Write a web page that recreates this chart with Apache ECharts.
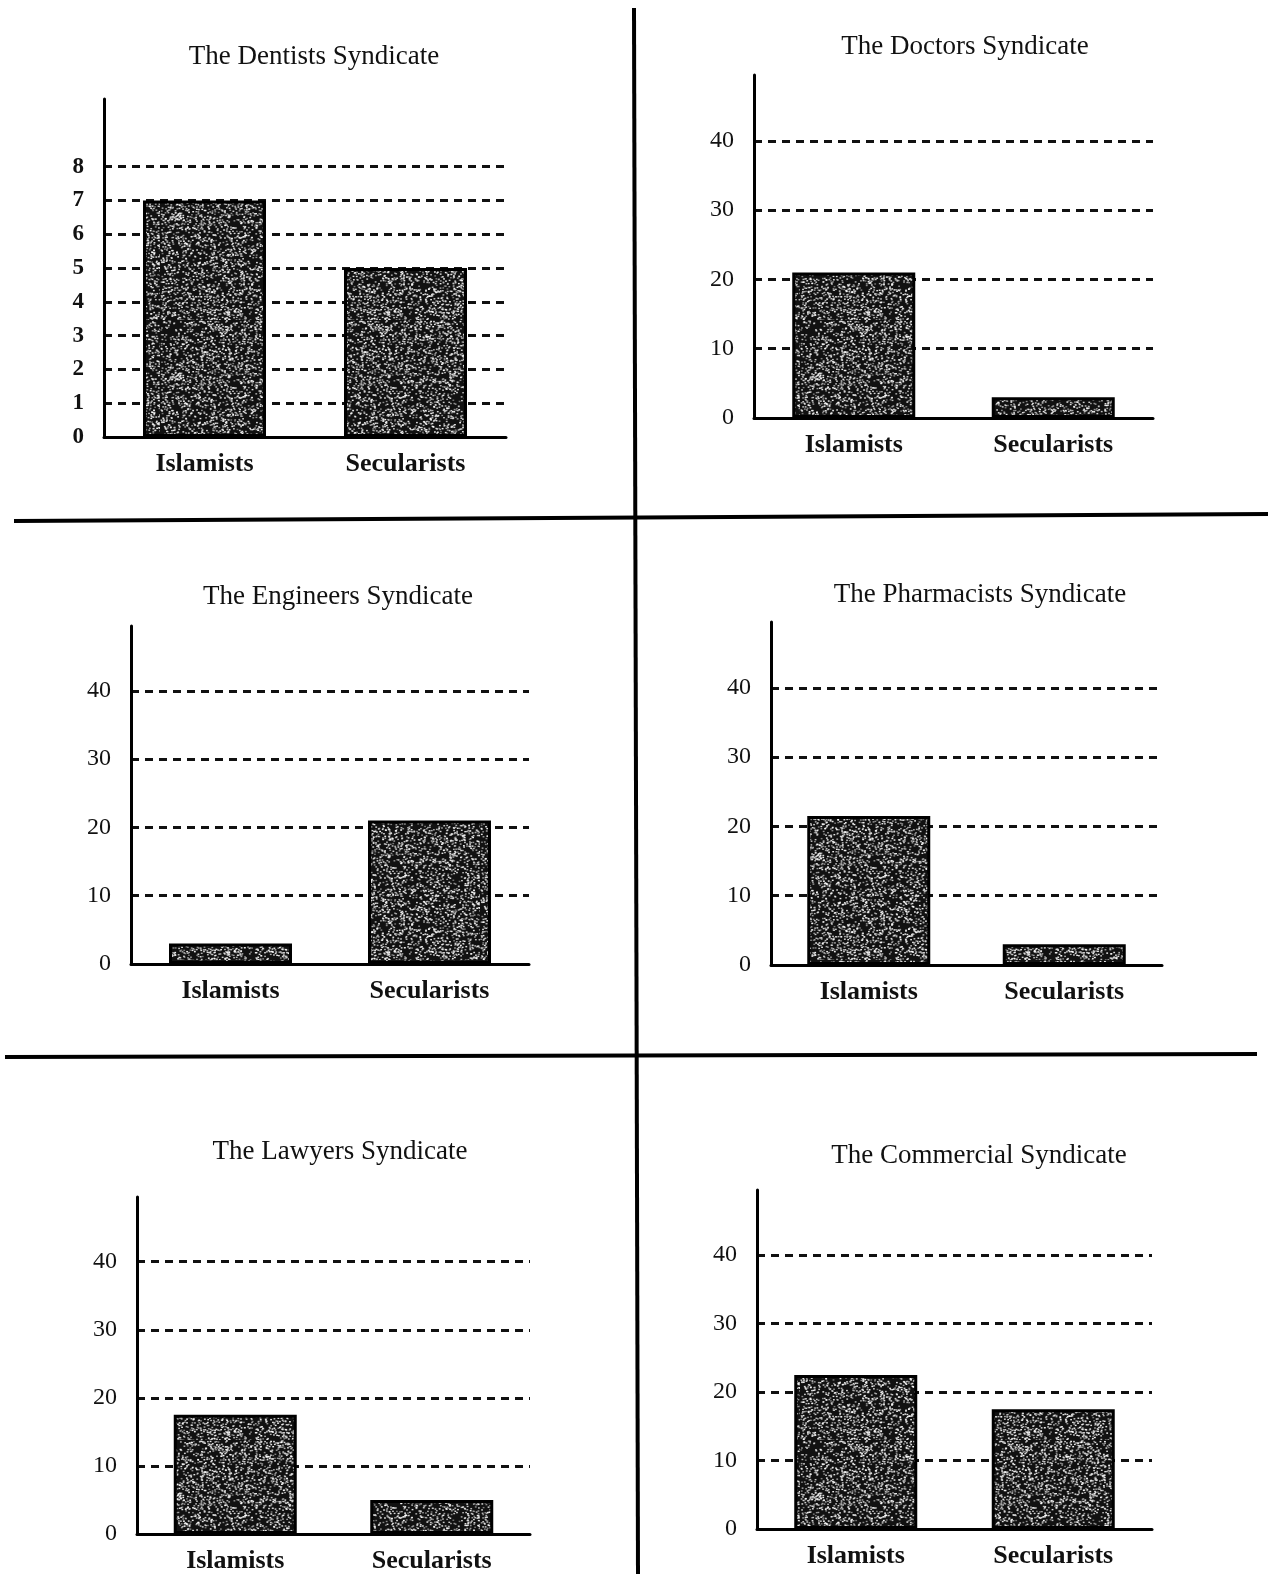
<!DOCTYPE html>
<html>
<head>
<meta charset="utf-8">
<script src="https://cdn.jsdelivr.net/npm/echarts@6/dist/echarts.min.js"></script>
<style>
  html,body{margin:0;padding:0;background:#fff;}
  #main{width:1275px;height:1574px;}
</style>
</head>
<body>
<div id="main"></div>
<script>
var categories = ['Islamists', 'Secularists'];
var titles = ['The Dentists Syndicate', 'The Doctors Syndicate', 'The Engineers Syndicate',
              'The Pharmacists Syndicate', 'The Lawyers Syndicate', 'The Commercial Syndicate'];
var dentistsValues = [7, 5];
var doctorsValues = [21, 3];
var engineersValues = [3, 21];
var pharmacistsValues = [21.5, 3];
var lawyersValues = [17.5, 5];
var commercialValues = [22.5, 17.5];
var dentistsTicks = [0, 1, 2, 3, 4, 5, 6, 7, 8];
var memberTicks = [0, 10, 20, 30, 40];

var allValues = [dentistsValues, doctorsValues, engineersValues, pharmacistsValues, lawyersValues, commercialValues];

// panel layout: grid box + title centre
var panels = [
  {left: 104, top: 99,   width: 402, height: 338, tx: 309, ty: 38},
  {left: 754, top: 75,   width: 399, height: 343, tx: 960, ty: 28},
  {left: 131, top: 626,  width: 398, height: 338, tx: 333, ty: 578},
  {left: 771, top: 622,  width: 391, height: 343, tx: 975, ty: 576},
  {left: 137, top: 1197, width: 393, height: 337, tx: 335, ty: 1133},
  {left: 757, top: 1190, width: 395, height: 339, tx: 974, ty: 1137}
];

// grainy print texture for the bars (hash noise, purely decorative)
function hash(n){ var v = Math.sin(n * 12.9898) * 43758.5453; return v - Math.floor(v); }
function grain(){
  var c = document.createElement('canvas');
  c.width = 160; c.height = 160;
  var g = c.getContext('2d');
  g.fillStyle = '#111';
  g.fillRect(0, 0, 160, 160);
  g.fillStyle = '#fff';
  for (var i = 0; i < 3600; i++) {
    var x = hash(i + 0.31) * 160;
    var y = hash(i * 1.7 + 5.13) * 160;
    g.globalAlpha = 0.4 + 0.55 * hash(i * 2.3 + 9.7);
    g.fillRect(x, y, 1.8, 1.4);
  }
  return c;
}
var barFill = {image: grain(), repeat: 'repeat'};

var myChart = echarts.init(document.getElementById('main'));
var serif = 'Liberation Serif, Times New Roman, serif';

var option = {
  backgroundColor: '#fff',
  animation: false,
  title: [], grid: [], xAxis: [], yAxis: [], series: [],
  graphic: [
    {type: 'line', shape: {x1: 634, y1: 8, x2: 638, y2: 1574}, style: {stroke: '#000', lineWidth: 4}},
    {type: 'line', shape: {x1: 14, y1: 521, x2: 1268, y2: 514}, style: {stroke: '#000', lineWidth: 4}},
    {type: 'line', shape: {x1: 5, y1: 1057, x2: 1257, y2: 1054}, style: {stroke: '#000', lineWidth: 4}}
  ]
};

panels.forEach(function(p, i){
  var isDent = i == 0;
  var ticks = isDent ? dentistsTicks : memberTicks;
  var lineColors = isDent
    ? ['#111','#111','#111','#111','#111','#111','#111','#111','#111','transparent','transparent']
    : ['#111','#111','#111','#111','#111','transparent'];
  option.title.push({
    text: titles[i], left: p.tx, top: p.ty, textAlign: 'center',
    textStyle: {fontFamily: serif, fontSize: 27, fontWeight: 'normal', color: '#111'}
  });
  option.grid.push({left: p.left, top: p.top, width: p.width, height: p.height});
  option.xAxis.push({
    type: 'category', gridIndex: i, data: categories,
    axisLine: {lineStyle: {color: '#000', width: 3}},
    axisTick: {show: false},
    axisLabel: {fontFamily: serif, fontSize: 26, fontWeight: 'bold', color: '#111', margin: 14}
  });
  option.yAxis.push({
    type: 'value', gridIndex: i, min: 0,
    max: isDent ? 10 : 49.5,
    interval: isDent ? 1 : 10,
    axisLine: {show: true, lineStyle: {color: '#000', width: 3}},
    axisTick: {show: false},
    axisLabel: {
      showMaxLabel: false,
      fontFamily: serif, fontSize: isDent ? 23 : 24, fontWeight: isDent ? 'bold' : 'normal',
      color: '#111', margin: 20,
      formatter: function(v){ return ticks.indexOf(v) >= 0 ? String(v) : ''; }
    },
    splitLine: {show: true, showMaxLine: false, lineStyle: {color: lineColors, type: [8, 6], width: 3}}
  });
  option.series.push({
    type: 'bar', xAxisIndex: i, yAxisIndex: i, data: allValues[i],
    barWidth: 123,
    itemStyle: {color: barFill, borderColor: '#000', borderWidth: 3}
  });
});

myChart.setOption(option);
</script>
</body>
</html>
